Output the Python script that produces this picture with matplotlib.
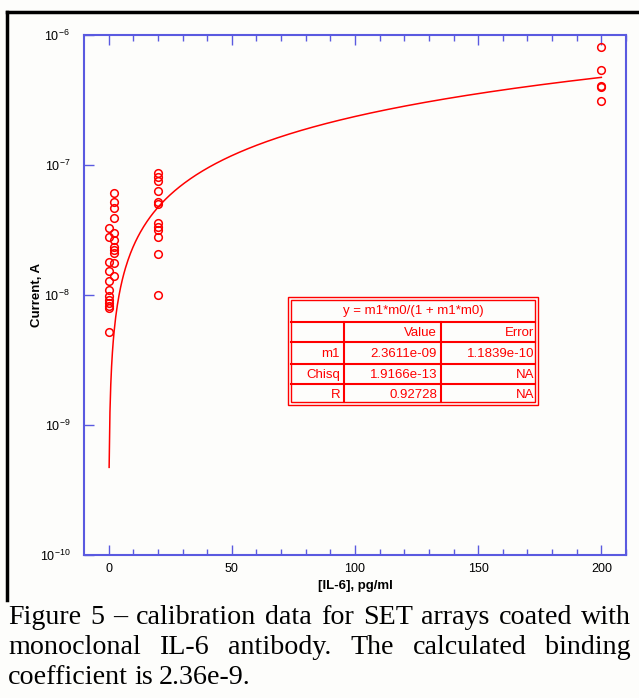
import matplotlib
matplotlib.use('Agg')
import matplotlib.pyplot as plt
from matplotlib.lines import Line2D
from matplotlib.patches import Rectangle
import numpy as np

plt.rcParams['font.family'] = ['Liberation Sans', 'DejaVu Sans']
plt.rcParams['mathtext.fontset'] = 'custom'
plt.rcParams['mathtext.rm'] = 'Liberation Sans'
plt.rcParams['mathtext.default'] = 'regular'

# measured data, [IL-6] in pg/ml vs current in A
conc_02 = [0.2] * 12
cur_02 = [3.28e-8, 2.81e-8, 1.79e-8, 1.53e-8, 1.29e-8, 1.09e-8,
          9.8e-9, 9.2e-9, 8.7e-9, 8.2e-9, 7.9e-9, 5.2e-9]
conc_2 = [2.0] * 11
cur_2 = [6.09e-8, 5.15e-8, 4.63e-8, 3.91e-8, 3.0e-8, 2.67e-8,
         2.34e-8, 2.22e-8, 2.10e-8, 1.76e-8, 1.41e-8]
conc_20 = [20.0] * 12
cur_20 = [8.63e-8, 8.13e-8, 7.57e-8, 6.34e-8, 5.22e-8, 5.01e-8,
          3.56e-8, 3.35e-8, 3.16e-8, 2.78e-8, 2.07e-8, 1.0e-8]
conc_200 = [200.0] * 5
cur_200 = [8.13e-7, 5.38e-7, 4.05e-7, 3.95e-7, 3.12e-7]

# fit result
m1 = 2.3611e-09
fit_rows = [['', 'Value', 'Error'],
            ['m1', '2.3611e-09', '1.1839e-10'],
            ['Chisq', '1.9166e-13', 'NA'],
            ['R', '0.92728', 'NA']]
fit_title = 'y = m1*m0/(1 + m1*m0)'

caption = ['Figure 5 \u2013 calibration data for SET arrays coated with',
           'monoclonal IL-6 antibody. The calculated binding',
           'coefficient is 2.36e-9.']

W, H = 639, 698
fig = plt.figure(figsize=(W / 100, H / 100), dpi=100, facecolor='#fdfdfb')

def fx(px):
    return px / W

def fy(py):
    return 1 - py / H

blue = '#5a5ae0'
red = '#ff0000'

ax = fig.add_axes([fx(84), fy(555), fx(626) - fx(84), fy(35) - fy(555)])
ax.set_facecolor('#fdfdfb')

x = np.concatenate([conc_02, conc_2, conc_20, conc_200])
y = np.concatenate([cur_02, cur_2, cur_20, cur_200])
ax.plot(x, y, 'o', mfc='none', mec=red, ms=5.5, mew=1.1)

xs = np.linspace(0.2, 200, 600)
ax.plot(xs, m1 * xs / (1 + m1 * xs), color=red, lw=1.1)

ax.set_yscale('log')
ax.set_xlim(-10, 210)
ax.set_ylim(1e-10, 1e-6)
ax.set_xticks([0, 50, 100, 150, 200])
ax.set_xticks(np.arange(0, 211, 10), minor=True)
ax.set_yticks([1e-10, 1e-9, 1e-8, 1e-7, 1e-6])
ax.set_yticklabels([r'$10^{-10}$', r'$10^{-9}$', r'$10^{-8}$', r'$10^{-7}$', r'$10^{-6}$'])
ax.yaxis.set_minor_locator(matplotlib.ticker.NullLocator())
for s in ax.spines.values():
    s.set_color(blue)
    s.set_linewidth(1.5)
ax.tick_params(axis='x', which='both', direction='in', top=True, color=blue,
               labelsize=9, pad=6)
ax.tick_params(axis='x', which='major', length=7, width=1)
ax.tick_params(axis='x', which='minor', length=4, width=1)
ax.tick_params(axis='y', which='major', direction='in', length=7, width=1,
               color=blue, labelsize=9, pad=10, right=False)
ax.set_xlabel('[IL-6], pg/ml', fontsize=9.5, fontweight='bold', labelpad=3)
ax.set_ylabel('Current, A', fontsize=9.5, fontweight='bold')
ax.yaxis.set_label_coords((43 - 84) / 542, 0.5)

# fit table
tl, tr, tt, tb = 288, 538, 297, 405
col = [288, 344, 441, 538]
row = [297, 322, 342, 364, 384, 405]
fig.patches.append(Rectangle((fx(tl), fy(tb)), fx(tr) - fx(tl), fy(tt) - fy(tb),
                             transform=fig.transFigure, fill=True, fc='#fdfdfb',
                             ec=red, lw=1, zorder=5))
fig.patches.append(Rectangle((fx(tl + 3), fy(tb - 3)), fx(tr - 3) - fx(tl + 3),
                             fy(tt + 3) - fy(tb - 3), transform=fig.transFigure,
                             fill=False, ec=red, lw=1, zorder=5))
for r in row[1:-1]:
    fig.add_artist(Line2D([fx(tl + 3), fx(tr - 3)], [fy(r), fy(r)], color=red, lw=1.5, zorder=6))
for c in col[1:-1]:
    fig.add_artist(Line2D([fx(c), fx(c)], [fy(row[1]), fy(tb - 3)], color=red, lw=1.5, zorder=6))
fig.text(fx((tl + tr) / 2), fy((row[0] + row[1]) / 2 + 1), fit_title, color=red,
         fontsize=9.5, ha='center', va='center', zorder=7)
for i, vals in enumerate(fit_rows):
    yc = fy((row[i + 1] + row[i + 2]) / 2 + 1)
    for j, v in enumerate(vals):
        fig.text(fx(col[j + 1] - 4), yc, v, color=red, fontsize=9.5,
                 ha='right', va='center', zorder=7)

# black frame
fig.add_artist(Line2D([fx(7), fx(7)], [fy(12), fy(600)], color='black', lw=2.5))
fig.add_artist(Line2D([fx(7), fx(639)], [fy(12), fy(12)], color='black', lw=2.5))

# justified caption
fig.canvas.draw()
renderer = fig.canvas.get_renderer()
cap_font = dict(family=['Liberation Serif', 'DejaVu Serif'], fontsize=20.2)
x0, x1 = 8, 631
baselines = [624, 654, 684]
for k, line in enumerate(caption):
    words = line.split(' ')
    texts = [fig.text(0, fy(baselines[k]), w, va='baseline', **cap_font) for w in words]
    widths = [t.get_window_extent(renderer).width for t in texts]
    if k < len(caption) - 1:
        gap = (x1 - x0 - sum(widths)) / (len(words) - 1)
    else:
        gap = 6
    pos = x0
    for t, wd in zip(texts, widths):
        t.set_x(fx(pos))
        pos += wd + gap

fig.savefig('out.png', dpi=100, facecolor=fig.get_facecolor())
